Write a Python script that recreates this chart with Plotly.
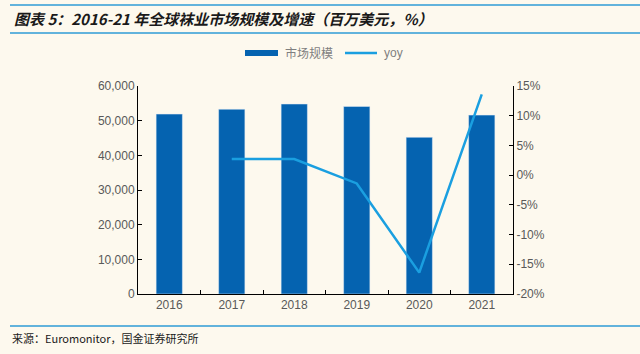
import plotly.graph_objects as go

years = ["2016", "2017", "2018", "2019", "2020", "2021"]
market_size = [51900, 53300, 54800, 54100, 45200, 51600]
yoy_years = ["2017", "2018", "2019", "2020", "2021"]
yoy = [2.7, 2.7, -1.4, -16.4, 13.6]
yoy_ticks = [-20, -15, -10, -5, 0, 5, 10, 15]
yoy_tick_labels = ["-20%", "-15%", "-10%", "-5%", "0%", "5%", "10%", "15%"]

BG = "#FDF9EE"
BAR = "#0563B0"
LINE = "#1A9FE0"
RULE = "#2E9BD6"
TXT = "#595959"
FONT = "Liberation Sans, Arial, sans-serif"
CJK = "Noto Sans CJK SC"

L, R, T, B = 138, 513, 86, 294
def px(x):
    return (x - L) / (R - L)
def py(y):
    return (B - y) / (B - T)

fig = go.Figure()
fig.add_trace(go.Bar(x=years, y=market_size, name="市场规模", marker_color=BAR,
                     width=0.42, yaxis="y", showlegend=False))
fig.add_trace(go.Scatter(x=yoy_years, y=yoy, name="yoy", mode="lines",
                         line=dict(color=LINE, width=2.5), yaxis="y2", showlegend=False))

axis_common = dict(showline=True, linecolor="#000000", linewidth=1, ticks="inside",
                   ticklen=4, tickcolor="#000000", showgrid=False, zeroline=False,
                   tickfont=dict(family=FONT, size=12, color=TXT))

fig.update_layout(
    width=640, height=354,
    margin=dict(l=L, r=640 - R, t=T, b=354 - B),
    paper_bgcolor=BG, plot_bgcolor=BG,
    showlegend=False,
    xaxis=dict(type="category", tickson="boundaries", **axis_common),
    yaxis=dict(range=[0, 60000], dtick=10000, tickformat=",", **axis_common),
    yaxis2=dict(range=[-20, 15], tickvals=yoy_ticks, ticktext=yoy_tick_labels,
                overlaying="y", side="right", **axis_common),
)

# rules
for yy in (5, 33, 326):
    fig.add_shape(type="line", xref="paper", yref="paper", x0=px(10), x1=px(640),
                  y0=py(yy), y1=py(yy), line=dict(color=RULE, width=1.5))

# custom legend
fig.add_shape(type="rect", xref="paper", yref="paper", x0=px(245), x1=px(278),
              y0=py(56), y1=py(50), fillcolor=BAR, line=dict(width=0))
fig.add_annotation(text="市场规模", xref="paper", yref="paper", x=px(283), y=py(53),
                   xanchor="left", yanchor="middle", showarrow=False,
                   font=dict(family=CJK, size=12, color="#7F7F7F"))
fig.add_shape(type="line", xref="paper", yref="paper", x0=px(345), x1=px(377),
              y0=py(53), y1=py(53), line=dict(color=LINE, width=2.5))
fig.add_annotation(text="yoy", xref="paper", yref="paper", x=px(382), y=py(53),
                   xanchor="left", yanchor="middle", showarrow=False,
                   font=dict(family=FONT, size=12, color="#7F7F7F"))

fig.add_annotation(text="图表 5：2016-21 年全球袜业市场规模及增速（百万美元，%）",
                   xref="paper", yref="paper", x=px(12), y=py(18), xanchor="left",
                   yanchor="middle", showarrow=False,
                   font=dict(family=CJK, size=15, color="#1a1a1a", weight="bold", style="italic"))
fig.add_annotation(text="来源：Euromonitor，国金证券研究所",
                   xref="paper", yref="paper", x=px(10), y=py(338), xanchor="left",
                   yanchor="middle", showarrow=False,
                   font=dict(family=CJK, size=11, color="#1a1a1a"))

fig.write_html("out.html")
